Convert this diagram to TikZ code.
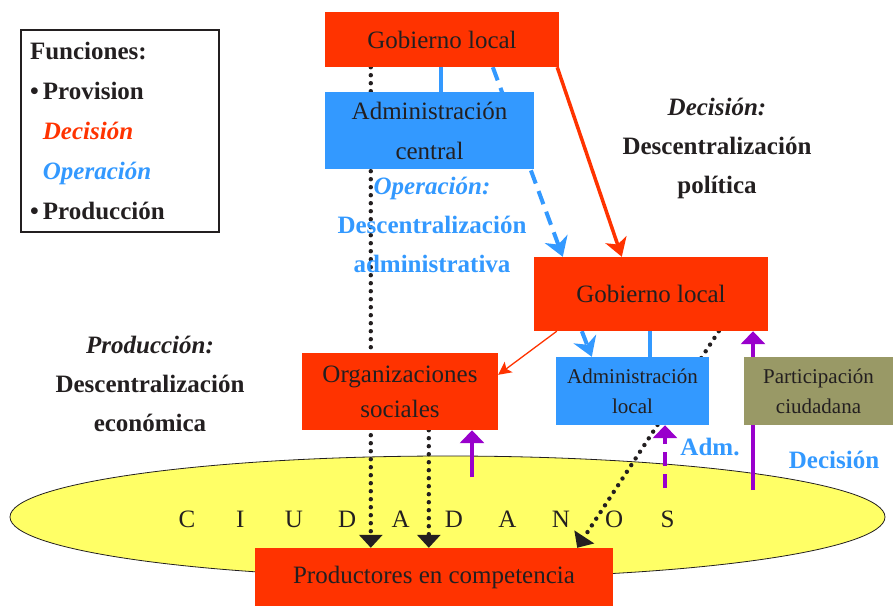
\documentclass[tikz,border=0pt]{standalone}
\usepackage{fontspec}
\setmainfont{Liberation Serif}
\usepackage{tikz}
\usetikzlibrary{
  arrows.meta,
  positioning,
  shapes.geometric,
  calc
}
\definecolor{ink}{RGB}{35,31,32}
\definecolor{govred}{RGB}{255,51,0}
\definecolor{admblue}{RGB}{51,153,255}
\definecolor{civic}{RGB}{153,153,102}
\definecolor{citizen}{RGB}{255,255,102}
\definecolor{voice}{RGB}{153,0,204}
\pgfdeclarelayer{back}
\pgfdeclarelayer{links}
\pgfsetlayers{back,links,main}
\newcommand{\bigtxt}{\fontsize{25}{40}\selectfont}
\newcommand{\smalltxt}{\fontsize{21}{30}\selectfont}

\tikzset{
  box/.style={inner sep=0pt, align=center, text=ink, font=\bigtxt},
  note/.style={inner sep=0pt, align=center, font=\fontsize{25}{39}\selectfont\bfseries},
  letter/.style={inner sep=0pt, anchor=base, text=ink, font=\bigtxt},
  dotlink/.style={ink, line width=4.4pt, dash pattern=on 0pt off 8pt, line cap=round,
    -{Triangle[width=23pt,length=13pt]}},
  opslink/.style={admblue, line width=4pt, dash pattern=on 14pt off 8pt,
    -{Stealth[width=24pt,length=19pt,inset=6pt]}},
  voicelink/.style={voice, line width=4pt, -{Triangle[width=24pt,length=13pt]}}
}

\begin{document}
\begin{tikzpicture}[x=1pt, y=1pt]
  \useasboundingbox (0,0) rectangle (893,606);
  \node[draw=ink, line width=1.2pt, minimum width=198pt, minimum height=202pt,
    inner xsep=9pt, inner ysep=4pt, text width=180pt, align=left, text=ink,
    font=\bigtxt\bfseries] (legend) at (120,475)
    {Funciones:\\
     \textbullet\,Provision\\
     \phantom{\textbullet\,}{\color{govred}\itshape Decisión}\\
     \phantom{\textbullet\,}{\color{admblue}\itshape Operación}\\
     \textbullet\,Producción};

  \node[box, fill=govred, minimum width=234pt, minimum height=55pt] (gl) at (442,566.5) {Gobierno local};
  \node[box, fill=admblue, minimum width=209pt, minimum height=77pt] (admc) at (429.5,475.5) {Administración\\central};
  \node[box, fill=govred, minimum width=234pt, minimum height=74pt] (gl2) at (651,312) {Gobierno local};
  \node[box, fill=govred, minimum width=196pt, minimum height=77pt, font=\fontsize{25}{35}\selectfont] (orgs) at (400,214.5) {Organizaciones\\sociales};
  \node[box, fill=admblue, minimum width=153pt, minimum height=68pt, font=\smalltxt] (admloc) at (632.5,215) {Administración\\local};
  \node[box, fill=civic, minimum width=149pt, minimum height=68pt, font=\smalltxt] (partic) at (818.5,215) {Participación\\ciudadana};
  \node[box, fill=govred, minimum width=358pt, minimum height=58pt] (prod) at (434,29) {Productores en competencia};

  \node[note, ink] (polit) at (717,458) {\textit{Decisión:}\\Descentralización\\política};
  \node[note, admblue] (admin) at (432,381.5) {\textit{Operación:}\\Descentralización\\administrativa};
  \node[note, ink] (econ) at (150,222.5) {\textit{Producción:}\\Descentralización\\económica};
  \node[note, admblue] (adm) at (710,159) {Adm.};
  \node[note, admblue] (dec) at (834,146) {Decisión};

  \begin{pgfonlayer}{back}
    \node[ellipse, draw=ink, line width=0.8pt, fill=citizen, minimum width=875pt,
      minimum height=122pt, inner sep=0pt] (ciud) at (447.5,89) {};
  \end{pgfonlayer}
  \foreach \ch [count=\i] in {C,I,U,D,A,D,A,N,O,S}
    \node[letter] (c\i) at ({187+53.4*(\i-1)},79) {\ch};

  \begin{pgfonlayer}{links}
    \coordinate (d1) at ([xshift=46pt]gl.south west);
    \coordinate (d2) at ([xshift=127pt]orgs.south west);
    \coordinate (ta) at ([xshift=116pt]gl.south west);
    \coordinate (tb) at ([xshift=116pt]gl2.south west);
    \coordinate (v1) at (753,116);
    \coordinate (v2) at (665,118);
    \coordinate (v3) at (472,129);
    \draw[dotlink] (d1) -- (d1 |- prod.north);
    \draw[dotlink] (d2) -- (d2 |- prod.north);
    \draw[dotlink] ([xshift=185pt]gl2.south west) -- ([xshift=-36pt]prod.north east);
    \draw[opslink] ([xshift=168pt]gl.south west) -- ([xshift=29pt]gl2.north west);
    \draw[opslink] ([xshift=48pt]gl2.south west) -- ([xshift=36pt]admloc.north west);
    \draw[admblue, line width=4pt] (ta) -- (ta |- admc.north);
    \draw[admblue, line width=4pt] (tb) -- (tb |- admloc.north);
    \draw[govred, line width=3.5pt, -{Stealth[width=22pt,length=18pt,inset=5pt]}]
      ([xshift=-2pt]gl.south east) -- ([xshift=88pt]gl2.north west);
    \draw[govred, line width=1.3pt, -{Stealth[width=13pt,length=13pt,inset=3pt]}]
      ([xshift=23pt]gl2.south west) -- ([yshift=-22pt]orgs.north east);
    \draw[voicelink] (v1) -- (v1 |- gl2.south);
    \draw[voicelink, dash pattern=on 14pt off 8pt] (v2) -- (v2 |- admloc.south);
    \draw[voicelink] (v3) -- (v3 |- orgs.south);
  \end{pgfonlayer}
\end{tikzpicture}
\end{document}
